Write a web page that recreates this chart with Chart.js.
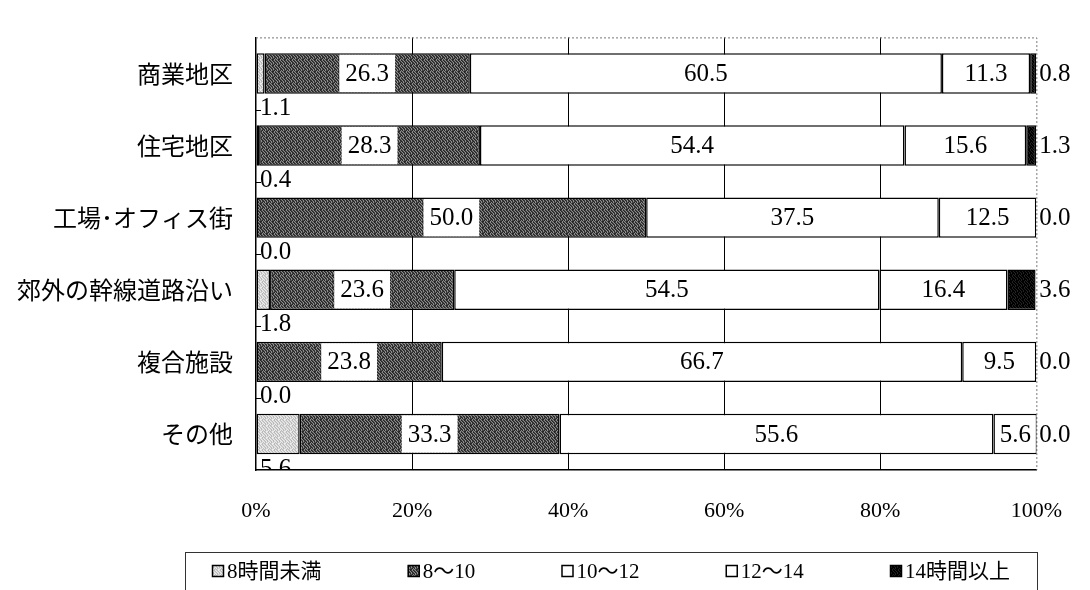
<!DOCTYPE html>
<html>
<head>
<meta charset="utf-8">
<script src="https://cdn.jsdelivr.net/npm/chart.js@4.4.1/dist/chart.umd.min.js"></script>
<style>
    html, body { margin: 0; padding: 0; background: #fff; }
</style>
</head>
<body>
<canvas id="chart" width="1090" height="590"></canvas>
<script>
// categories and series
const categories = ['商業地区', '住宅地区', '工場･オフィス街', '郊外の幹線道路沿い', '複合施設', 'その他'];
const seriesNames = ['8時間未満', '8〜10', '10〜12', '12〜14', '14時間以上'];

const under8 = [1.1, 0.4, 0.0, 1.8, 0.0, 5.6];
const h8to10 = [26.3, 28.3, 50.0, 23.6, 23.8, 33.3];
const h10to12 = [60.5, 54.4, 37.5, 54.5, 66.7, 55.6];
const h12to14 = [11.3, 15.6, 12.5, 16.4, 9.5, 5.6];
const over14 = [0.8, 1.3, 0.0, 3.6, 0.0, 0.0];

const xTicks = [0, 20, 40, 60, 80, 100];

const canvas = document.getElementById('chart');
const ctx = canvas.getContext('2d');

/**
 * Small dotted fill, like the screen tones of the printed chart.
 */
function makePattern(map, colors) {
    const rows = map.split('|');
    const c = document.createElement('canvas');
    c.width = rows[0].length;
    c.height = rows.length;
    const g = c.getContext('2d');
    rows.forEach((row, y) => {
        for (let x = 0; x < row.length; x++) {
            g.fillStyle = colors[+row[x]];
            g.fillRect(x, y, 1, 1);
        }
    });
    return ctx.createPattern(c, 'repeat');
}

const toneMap = '012012|201201|120120|012102|210021|102210';
const fills = [
    makePattern(toneMap, ['#d4d4d4', '#b8b8b8', '#ececec']),
    makePattern(toneMap, ['#454545', '#8c8c8c', '#262626']),
    '#ffffff',
    '#ffffff',
    makePattern(toneMap, ['#000000', '#222222', '#000000'])
];
const seriesData = [under8, h8to10, h10to12, h12to14, over14];

const numFont = '25px "Liberation Serif", "Noto Sans CJK JP", serif';

// value labels, placed the way the original has them
const barLabels = {
    id: 'barLabels',
    afterDatasetsDraw(chart) {
        const { ctx, chartArea, scales } = chart;
        const band = scales.y.height / categories.length;
        ctx.save();
        ctx.font = numFont;
        ctx.fillStyle = '#000';
        ctx.textBaseline = 'middle';
        chart.data.datasets.forEach((ds, di) => {
            chart.getDatasetMeta(di).data.forEach((bar, i) => {
                const txt = ds.data[i].toFixed(1);
                const left = Math.min(bar.x, bar.base);
                const right = Math.max(bar.x, bar.base);
                if (di === 0) {
                    // below the bar, cut off by the plot frame like the original
                    ctx.save();
                    ctx.beginPath();
                    ctx.rect(chartArea.left, chartArea.top, chartArea.width, chartArea.height);
                    ctx.clip();
                    ctx.textAlign = 'left';
                    ctx.fillText(txt, chartArea.left + 4, bar.y + band / 2 - 1);
                    ctx.restore();
                } else if (di === 4) {
                    ctx.textAlign = 'left';
                    ctx.fillText(txt, chartArea.right + 3, bar.y + 1);
                } else {
                    const cx = (left + right) / 2;
                    if (di === 1) {
                        const w = ctx.measureText(txt).width + 12;
                        ctx.fillStyle = '#fff';
                        ctx.fillRect(cx - w / 2, bar.y - bar.height / 2 + 1.5, w, bar.height - 3);
                        ctx.fillStyle = '#000';
                    }
                    ctx.textAlign = 'center';
                    ctx.fillText(txt, cx, bar.y + 1);
                }
            });
        });
        ctx.restore();
    }
};

// dotted top/right frame, inward ticks and the boxed legend
const frameAndLegend = {
    id: 'frameAndLegend',
    beforeDatasetsDraw(chart) {
        const { ctx, chartArea } = chart;
        ctx.save();
        ctx.strokeStyle = '#777';
        ctx.lineWidth = 1;
        ctx.setLineDash([2, 2]);
        ctx.beginPath();
        ctx.moveTo(chartArea.left, chartArea.top + 0.5);
        ctx.lineTo(chartArea.right + 0.5, chartArea.top + 0.5);
        ctx.lineTo(chartArea.right + 0.5, chartArea.bottom);
        ctx.stroke();
        ctx.restore();
    },
    afterDraw(chart) {
        const { ctx, chartArea, scales } = chart;
        const band = scales.y.height / categories.length;
        ctx.save();
        ctx.strokeStyle = '#000';
        ctx.lineWidth = 1;
        for (let i = 1; i < categories.length; i++) {
            const y = Math.round(scales.y.getPixelForValue(i) - band / 2) + 0.5;
            ctx.beginPath();
            ctx.moveTo(chartArea.left, y);
            ctx.lineTo(chartArea.left + 5, y);
            ctx.stroke();
        }

        // legend box, entries spread evenly inside it
        const boxL = 185, boxR = 1037;
        ctx.strokeStyle = '#333';
        ctx.strokeRect(boxL + 0.5, 552.5, boxR - boxL, 60);
        ctx.font = '21px "Liberation Serif", "Noto Sans CJK JP", serif';
        ctx.textBaseline = 'middle';
        ctx.textAlign = 'left';
        const widths = seriesNames.map(n => 15 + ctx.measureText(n).width);
        const inner = (boxR - boxL) - 2 * 27;
        const gap = (inner - widths.reduce((a, b) => a + b, 0)) / (seriesNames.length - 1);
        let x = boxL + 27;
        seriesNames.forEach((name, i) => {
            ctx.fillStyle = fills[i];
            ctx.fillRect(x, 565, 12, 12);
            ctx.strokeStyle = '#000';
            ctx.lineWidth = 1.5;
            ctx.strokeRect(x + 0.5, 565.5, 11, 11);
            ctx.fillStyle = '#000';
            ctx.fillText(name, x + 15, 572);
            x += widths[i] + gap;
        });
        ctx.restore();
    }
};

const chart = new Chart(ctx, {
    type: 'bar',
    data: {
        labels: categories,
        datasets: seriesNames.map((name, i) => ({
            label: name,
            data: seriesData[i],
            backgroundColor: fills[i],
            borderColor: '#000',
            borderWidth: 1.5,
            borderSkipped: false,
            barPercentage: 0.56,
            categoryPercentage: 1
        }))
    },
    options: {
        indexAxis: 'y',
        responsive: false,
        animation: false,
        layout: { padding: { top: 11, right: 46, left: 0, bottom: 0 } },
        plugins: {
            legend: { display: false },
            tooltip: { enabled: false }
        },
        scales: {
            x: {
                stacked: true,
                min: 0,
                max: 100,
                afterFit: (s) => { s.height = 120; },
                afterBuildTicks: (s) => { s.ticks = xTicks.map(v => ({ value: v })); },
                ticks: {
                    callback: (v) => v + '%',
                    color: '#000',
                    padding: 28,
                    maxRotation: 0,
                    font: { family: '"Liberation Serif", serif', size: 22 }
                },
                grid: {
                    drawTicks: false,
                    lineWidth: 1,
                    color: (c) => (c.tick && (c.tick.value === 0 || c.tick.value === 100)) ? 'rgba(0,0,0,0)' : '#000'
                },
                border: { display: true, color: '#000', width: 1.5 }
            },
            y: {
                stacked: true,
                afterFit: (s) => { s.width = 256; },
                ticks: {
                    color: '#000',
                    padding: 23,
                    font: { family: '"Noto Sans CJK JP", sans-serif', size: 24 }
                },
                grid: { display: false, drawTicks: false },
                border: { display: true, color: '#000', width: 1.5 }
            }
        }
    },
    plugins: [barLabels, frameAndLegend]
});
</script>
</body>
</html>
